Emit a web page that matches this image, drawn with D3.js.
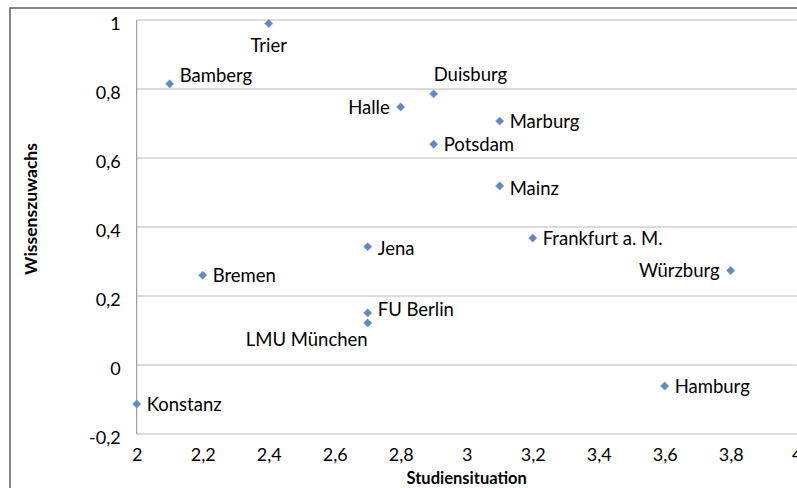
<!DOCTYPE html>
<html><head><meta charset="utf-8">
<script src="https://cdnjs.cloudflare.com/ajax/libs/d3/7.8.5/d3.min.js"></script>
<style>
body{margin:0;background:#fff;}
svg{display:block;font-family:Lato,"Open Sans",sans-serif;}
</style></head>
<body><svg id="c" width="797" height="488"></svg>
<script>
const universities = ["Trier","Bamberg","Duisburg","Halle","Marburg","Potsdam","Mainz","Frankfurt a. M.","Würzburg","Jena","Bremen","FU Berlin","LMU München","Hamburg","Konstanz"];
const studiensituation = [2.4,2.1,2.9,2.8,3.1,2.9,3.1,3.2,3.8,2.7,2.2,2.7,2.7,3.6,2.0];
const wissenszuwachs = [0.99,0.815,0.786,0.748,0.707,0.64,0.519,0.368,0.274,0.343,0.26,0.151,0.122,-0.061,-0.113];
const labelSide = ["below","right","above","left","right","right","right","right","left","right","right","right","belowleft","right","right"];
const xTicks = [2,2.2,2.4,2.6,2.8,3,3.2,3.4,3.6,3.8,4];
const yTicks = [-0.2,0,0.2,0.4,0.6,0.8,1];
const xTitle = "Studiensituation";
const yTitle = "Wissenszuwachs";

const svg = d3.select("#c");
const fmt = v => String(+v.toFixed(1)).replace(".", ",");
const x = d3.scaleLinear().domain([2,4]).range([136.7,796.7]);
const y = d3.scaleLinear().domain([-0.2,1]).range([434,20]);

// outer chart border
svg.append("rect").attr("x",10).attr("y",8).attr("width",900).attr("height",600)
  .attr("fill","none").attr("stroke","#5f5f5f").attr("stroke-width",1.5);

// gridlines
svg.append("g").selectAll("line").data(yTicks).join("line")
  .attr("x1",x(2)).attr("x2",x(4)).attr("y1",d=>y(d)).attr("y2",d=>y(d))
  .attr("stroke","#b8b8b8").attr("stroke-width",1.2);

// y axis line
svg.append("line").attr("x1",x(2)).attr("x2",x(2)).attr("y1",y(1)).attr("y2",y(-0.2))
  .attr("stroke","#8c8c8c").attr("stroke-width",1);

// y tick labels
const yAxis = d3.axisLeft(y).tickValues(yTicks).tickFormat(fmt).tickSize(0).tickPadding(16);
const gy = svg.append("g").attr("transform",`translate(${x(2)},0)`).call(yAxis);
gy.select(".domain").remove();
gy.selectAll("text").attr("font-size",18).attr("font-family","Lato").attr("fill","#000").attr("dy","0.5em");

// x tick labels
const xAxis = d3.axisBottom(x).tickValues(xTicks).tickFormat(fmt).tickSize(0).tickPadding(14);
const gx = svg.append("g").attr("transform",`translate(0,${y(-0.2)})`).call(xAxis);
gx.select(".domain").remove();
gx.selectAll("text").attr("font-size",18).attr("font-family","Lato").attr("fill","#000");

// titles
svg.append("text").attr("x",(x(2)+x(4))/2).attr("y",483.5).attr("text-anchor","middle")
  .attr("font-size",16.5).attr("font-weight","bold").text(xTitle);
svg.append("text").attr("transform","translate(37,209) rotate(-90)").attr("text-anchor","middle")
  .attr("font-size",17.5).attr("font-weight","bold").text(yTitle);

// points (square diamonds)
const pts = universities.map((n,i)=>({n, x:studiensituation[i], y:wissenszuwachs[i], side:labelSide[i]}));
const r = 4.2;
svg.append("g").selectAll("path").data(pts).join("path")
  .attr("d", `M0,${-r}L${r},0L0,${r}L${-r},0Z`)
  .attr("transform", d=>`translate(${x(d.x)},${y(d.y)})`)
  .attr("fill","#5f88c4").attr("stroke","#8eaad6").attr("stroke-width",0.6);

// labels
const lab = svg.append("g").attr("font-size",18.5).attr("fill","#000");
pts.forEach(d=>{
  const px=x(d.x), py=y(d.y);
  let tx=px, ty=py, anchor="start";
  if(d.side==="right"){tx=px+10;}
  else if(d.side==="left"){tx=px-11;anchor="end";}
  else if(d.side==="below"){ty=py+22;anchor="middle";}
  else if(d.side==="above"){ty=py-19;}
  else if(d.side==="belowleft"){ty=py+16;anchor="end";}
  if(d.n==="Bamberg") ty-=8;
  if(d.n==="FU Berlin") ty-=4;
  if(d.n==="Jena"||d.n==="Mainz") ty+=2;
  lab.append("text").attr("x",tx).attr("y",ty).attr("dy","0.36em").attr("text-anchor",anchor).text(d.n);
});
</script></body></html>
